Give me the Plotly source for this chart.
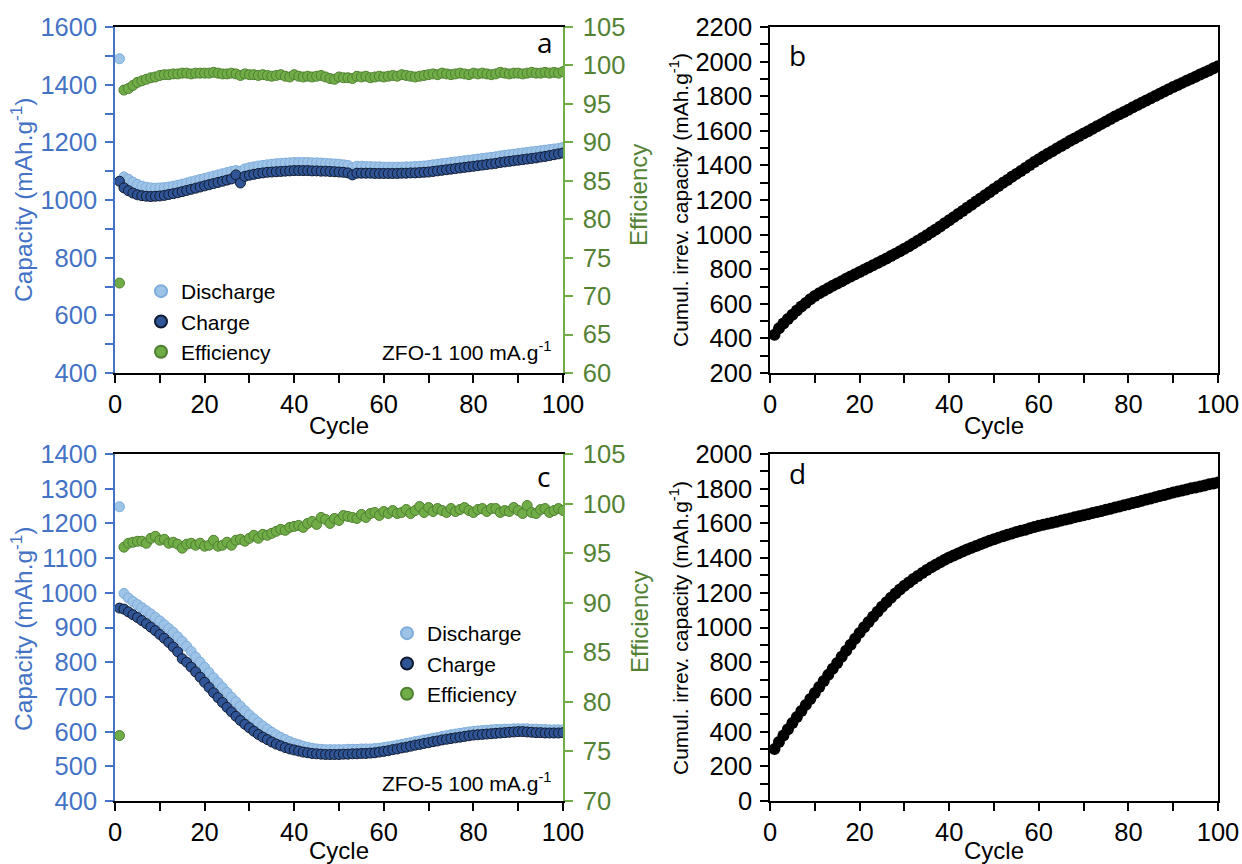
import plotly.graph_objects as go

cycles = list(range(1, 101))

# ---- Panel a: ZFO-1 ----
a_discharge = [1490, 1080, 1072, 1062, 1054, 1048, 1044, 1042, 1041, 1042,
               1043, 1045, 1048, 1051, 1055, 1059, 1063, 1067, 1071, 1075,
               1079, 1083, 1087, 1091, 1095, 1099, 1102, 1100, 1108, 1112,
               1115, 1118, 1120, 1122, 1124, 1126, 1127, 1128, 1129, 1130,
               1130, 1130, 1130, 1129, 1129, 1128, 1127, 1126, 1125, 1124,
               1122, 1120, 1112, 1117, 1117, 1116, 1116, 1115, 1115, 1114,
               1114, 1114, 1114, 1114, 1115, 1115, 1116, 1117, 1118, 1120,
               1122, 1124, 1126, 1128, 1130, 1132, 1134, 1136, 1138, 1140,
               1142, 1144, 1146, 1148, 1150, 1153, 1155, 1157, 1159, 1161,
               1163, 1165, 1167, 1169, 1171, 1173, 1175, 1177, 1179, 1182]
a_charge = [1065, 1042, 1032, 1024, 1018, 1015, 1013, 1012, 1013, 1014,
            1016, 1019, 1022, 1025, 1029, 1033, 1037, 1041, 1045, 1049,
            1053, 1057, 1061, 1065, 1069, 1073, 1087, 1059, 1082, 1086,
            1089, 1092, 1094, 1096, 1097, 1098, 1099, 1100, 1101, 1102,
            1102, 1102, 1102, 1101, 1101, 1100, 1100, 1099, 1098, 1097,
            1096, 1094, 1087, 1093, 1093, 1093, 1093, 1092, 1092, 1092,
            1092, 1092, 1092, 1093, 1093, 1094, 1094, 1095, 1096, 1097,
            1099, 1101, 1103, 1105, 1107, 1109, 1111, 1113, 1115, 1117,
            1119, 1121, 1123, 1125, 1127, 1130, 1132, 1134, 1136, 1138,
            1140, 1142, 1144, 1146, 1149, 1151, 1154, 1157, 1160, 1163]
a_eff = [71.7, 96.8, 97.0, 97.4, 97.8, 98.0, 98.2, 98.4, 98.5, 98.7,
         98.8, 98.8, 98.9, 98.9, 99.0, 99.0, 98.9, 99.0, 99.0, 99.0,
         99.0, 99.1, 99.0, 98.9, 98.9, 99.0, 98.9, 98.7, 98.9, 98.8,
         98.8, 98.7, 98.8, 98.7, 98.6, 98.7, 98.8, 98.6, 98.5, 98.8,
         98.6, 98.5, 98.6, 98.5, 98.6, 98.7, 98.5, 98.3, 98.2, 98.5,
         98.4, 98.4, 98.3, 98.6, 98.5, 98.6, 98.4, 98.5, 98.6, 98.5,
         98.6, 98.7, 98.6, 98.8, 98.7, 98.6, 98.5, 98.6, 98.7, 98.8,
         98.9, 98.8, 99.0, 98.9, 98.8, 98.9, 99.0, 98.9, 98.8, 99.0,
         98.9, 99.0, 98.9, 98.8, 98.9, 99.1, 99.0, 98.9, 99.0, 99.0,
         98.9, 99.0, 99.1, 99.0, 99.0, 99.1, 99.0, 99.1, 99.0, 99.2]

# ---- Panel b: ZFO-1 cumulative irreversible capacity ----
b_cumul = [421, 458, 486, 512, 537, 561, 584, 605, 626, 645,
           661, 676, 690, 704, 718, 731, 745, 758, 771, 784,
           797, 810, 823, 836, 849, 862, 876, 890, 904, 918,
           933, 948, 964, 980, 996, 1013, 1030, 1047, 1065, 1083,
           1101, 1119, 1137, 1155, 1173, 1191, 1209, 1227, 1245, 1263,
           1281, 1299, 1316, 1334, 1351, 1368, 1385, 1402, 1419, 1435,
           1451, 1467, 1482, 1497, 1512, 1527, 1542, 1556, 1570, 1584,
           1598, 1612, 1626, 1640, 1654, 1668, 1682, 1696, 1709, 1722,
           1736, 1749, 1762, 1775, 1788, 1801, 1814, 1827, 1840, 1853,
           1865, 1877, 1889, 1901, 1913, 1925, 1937, 1949, 1961, 1973]

# ---- Panel c: ZFO-5 ----
c_discharge = [1248, 998, 985, 975, 966, 957, 948, 939, 929, 919,
               908, 897, 886, 873, 860, 846, 831, 815, 800, 785,
               770, 755, 741, 727, 713, 699, 686, 673, 660, 648,
               637, 626, 616, 607, 598, 590, 583, 577, 571, 566,
               562, 558, 555, 552, 550, 549, 548, 548, 548, 548,
               548, 549, 549, 549, 550, 550, 550, 551, 552, 554,
               556, 558, 561, 563, 566, 568, 571, 573, 576, 578,
               581, 583, 586, 588, 591, 593, 595, 597, 599, 601,
               602, 603, 604, 605, 606, 606, 607, 607, 608, 608,
               608, 608, 607, 607, 606, 606, 605, 605, 605, 605]
c_charge = [956, 953, 945, 937, 929, 920, 911, 901, 891, 880,
            869, 857, 844, 830, 810, 800, 786, 772, 757, 742,
            727, 712, 698, 684, 670, 657, 644, 632, 621, 611,
            601, 592, 584, 577, 570, 564, 559, 554, 550, 547,
            544, 541, 539, 537, 536, 535, 534, 534, 534, 534,
            535, 535, 536, 536, 537, 537, 538, 539, 541, 543,
            545, 548, 550, 553, 555, 558, 561, 563, 566, 568,
            571, 573, 576, 578, 580, 582, 584, 586, 588, 590,
            591, 592, 593, 594, 595, 596, 597, 598, 599, 600,
            600, 599, 598, 597, 597, 596, 596, 596, 596, 597]
c_eff = [76.6, 95.6, 96.0, 96.1, 96.2, 96.2, 96.0, 96.5, 96.7, 96.3,
         96.4, 96.0, 96.1, 95.9, 95.5, 95.9, 96.0, 95.8, 96.0, 95.7,
         95.8, 96.3, 95.7, 95.8, 96.1, 95.8, 96.3, 96.4, 96.2, 96.5,
         96.8, 96.5, 96.9, 96.8, 97.0, 97.2, 97.4, 97.3, 97.6, 97.7,
         97.8, 97.6, 98.0, 98.2, 97.9, 98.6, 98.4, 98.0, 98.5, 98.3,
         98.8, 98.7, 98.6, 98.5, 98.9, 98.6, 99.0, 99.1, 98.8, 99.2,
         99.0, 99.3, 99.0, 99.1, 99.4, 99.0, 99.3, 99.7, 99.1, 99.6,
         99.2, 99.5, 99.3, 99.1, 99.5, 99.2, 99.4, 99.6, 99.3, 99.1,
         99.4, 99.5, 99.2, 99.5, 99.5, 99.1, 99.3, 99.2, 99.6, 99.3,
         99.0, 99.8, 99.1, 99.0, 99.4, 99.5, 99.1, 99.3, 99.5, 99.3]

# ---- Panel d: ZFO-5 cumulative irreversible capacity ----
d_cumul = [299, 340, 378, 414, 449, 484, 519, 554, 588, 622,
           657, 692, 727, 762, 796, 831, 866, 901, 935, 969,
           1001, 1032, 1062, 1091, 1119, 1146, 1172, 1196, 1219, 1240,
           1260, 1279, 1297, 1314, 1331, 1347, 1362, 1376, 1390, 1403,
           1415, 1427, 1438, 1449, 1460, 1470, 1480, 1490, 1500, 1509,
           1518, 1526, 1534, 1542, 1550, 1557, 1564, 1572, 1579, 1586,
           1592, 1598, 1604, 1610, 1616, 1622, 1628, 1635, 1641, 1647,
           1653, 1660, 1666, 1672, 1679, 1685, 1692, 1698, 1705, 1711,
           1718, 1724, 1731, 1738, 1744, 1751, 1758, 1764, 1771, 1778,
           1784, 1790, 1796, 1802, 1807, 1813, 1819, 1825, 1830, 1836]

# ---------------- styling ----------------
W, H = 1242, 864
FONT = "Liberation Sans, Arial, sans-serif"
BLUE = "#4472C4"
GREEN_TXT = "#548235"
GREEN_LINE = "#70AD47"
DIS_FILL, DIS_LINE = "#9DC3E6", "#7EADDC"
CHG_FILL, CHG_LINE = "#2F5597", "#101A30"
EFF_FILL, EFF_LINE = "#70AD47", "#4F7F30"
TICK_SIZE = 25.5


def px(x):
    return x / W


def py(y):
    return 1 - y / H


XA = [px(115), px(563)]
XB = [px(770), px(1218)]
YTOP = [py(373), py(27)]
YBOT = [py(801), py(454)]

fig = go.Figure()

MS = 10


def cap_traces(xa, ya, ya2, dis, chg, eff, legend, show):
    fig.add_trace(go.Scatter(x=cycles, y=dis, mode="markers", name="Discharge",
                             xaxis=xa, yaxis=ya, legend=legend, showlegend=show,
                             marker=dict(size=MS, color=DIS_FILL, line=dict(color=DIS_LINE, width=1))))
    fig.add_trace(go.Scatter(x=cycles, y=chg, mode="markers", name="Charge",
                             xaxis=xa, yaxis=ya, legend=legend, showlegend=show,
                             marker=dict(size=MS, color=CHG_FILL, line=dict(color=CHG_LINE, width=1))))
    fig.add_trace(go.Scatter(x=cycles, y=eff, mode="markers", name="Efficiency",
                             xaxis=xa, yaxis=ya2, legend=legend, showlegend=show,
                             marker=dict(size=MS, color=EFF_FILL, line=dict(color=EFF_LINE, width=1))))


cap_traces("x", "y", "y2", a_discharge, a_charge, a_eff, "legend", True)
cap_traces("x2", "y3", "y4", c_discharge, c_charge, c_eff, "legend2", True)

fig.add_trace(go.Scatter(x=cycles, y=b_cumul, mode="markers", showlegend=False,
                         xaxis="x3", yaxis="y5",
                         marker=dict(size=12, color="black", line=dict(width=0))))
fig.add_trace(go.Scatter(x=cycles, y=d_cumul, mode="markers", showlegend=False,
                         xaxis="x4", yaxis="y6",
                         marker=dict(size=12, color="black", line=dict(width=0))))

TF = dict(family=FONT, size=TICK_SIZE, color="black")


def xax(domain, anchor):
    return dict(domain=domain, anchor=anchor, range=[0, 100], dtick=20, tick0=0,
                ticks="outside", ticklen=8, tickwidth=1.5, tickcolor="black",
                minor=dict(dtick=10, ticks="outside", ticklen=8, tickwidth=1.5, tickcolor="black"),
                showline=True, linecolor="black", linewidth=1.5, mirror=True,
                showgrid=False, zeroline=False, tickfont=TF, automargin=False)


def yax(domain, anchor, rng, dtick, minor, color):
    d = dict(domain=domain, anchor=anchor, range=rng, dtick=dtick, tick0=rng[0],
             ticks="outside", ticklen=8, tickwidth=1.5, tickcolor=color,
             showline=True, linecolor=color, linewidth=1.5,
             showgrid=False, zeroline=False, automargin=False, ticklabelstandoff=3,
             tickfont=dict(family=FONT, size=TICK_SIZE, color=color))
    if minor:
        d["minor"] = dict(dtick=minor, ticks="outside", ticklen=8, tickwidth=1.5, tickcolor=color)
    return d


def y2ax(overlay, anchor, rng, color_line, color_txt):
    return dict(overlaying=overlay, anchor=anchor, side="right", range=rng, dtick=5, tick0=rng[0],
                ticks="outside", ticklen=8, tickwidth=1.5, tickcolor=color_line,
                showline=True, linecolor=color_line, linewidth=1.5,
                showgrid=False, zeroline=False, automargin=False, ticklabelstandoff=5,
                tickfont=dict(family=FONT, size=TICK_SIZE, color=color_txt))


yb = yax(YTOP, "x3", [200, 2200], 200, 100, "black")
yb["mirror"] = True
yd = yax(YBOT, "x4", [0, 2000], 200, 100, "black")
yd["mirror"] = True

fig.update_layout(
    width=W, height=H,
    margin=dict(l=0, r=0, t=0, b=0, autoexpand=False),
    paper_bgcolor="white", plot_bgcolor="white",
    font=dict(family=FONT, size=21, color="black"),
    xaxis=xax(XA, "y"),
    yaxis=yax(YTOP, "x", [400, 1600], 200, 100, BLUE),
    yaxis2=y2ax("y", "x", [60, 105], GREEN_LINE, GREEN_TXT),
    xaxis2=xax(XA, "y3"),
    yaxis3=yax(YBOT, "x2", [400, 1400], 100, None, BLUE),
    yaxis4=y2ax("y3", "x2", [70, 105], GREEN_LINE, GREEN_TXT),
    xaxis3=xax(XB, "y5"),
    yaxis5=yb,
    xaxis4=xax(XB, "y6"),
    yaxis6=yd,
    legend=dict(x=px(141), y=py(271), xanchor="left", yanchor="top",
                bgcolor="rgba(0,0,0,0)", font=dict(family=FONT, size=21, color="black"),
                tracegroupgap=0, itemsizing="constant"),
    legend2=dict(x=px(387), y=py(613), xanchor="left", yanchor="top",
                 bgcolor="rgba(0,0,0,0)", font=dict(family=FONT, size=21, color="black"),
                 tracegroupgap=0, itemsizing="constant"),
)

ann = []


def text(x, y, s, size=24, color="black", angle=0, xanchor="center", family=FONT):
    ann.append(dict(x=px(x), y=py(y), xref="paper", yref="paper", text=s, showarrow=False,
                    xanchor=xanchor, yanchor="middle", textangle=angle,
                    font=dict(family=family, size=size, color=color)))


# axis titles
text(21, 200, "Capacity (mAh.g<sup>-1</sup>)", size=24.5, color=BLUE, angle=-90)
text(21, 629, "Capacity (mAh.g<sup>-1</sup>)", size=24.5, color=BLUE, angle=-90)
text(639, 195, "Efficiency", size=24, color=GREEN_TXT, angle=-90)
text(639, 622, "Efficiency", size=24, color=GREEN_TXT, angle=-90)
text(679, 200, "Cumul. irrev. capacity (mAh.g<sup>-1</sup>)", size=21, angle=-90)
text(679, 628, "Cumul. irrev. capacity (mAh.g<sup>-1</sup>)", size=21, angle=-90)
text(339, 425, "Cycle")
text(339, 850, "Cycle")
text(994, 425, "Cycle")
text(994, 850, "Cycle")

# sample labels
text(553, 351, "ZFO-1 100 mA.g<sup>-1</sup>", size=21, xanchor="right")
text(553, 782, "ZFO-5 100 mA.g<sup>-1</sup>", size=21, xanchor="right")

# panel letters
LET = "Open Sans, Lato, sans-serif"
text(545, 42, "a", size=28, family=LET)
text(797, 55, "b", size=28, family=LET)
text(543, 476, "c", size=28, family=LET)
text(797, 473, "d", size=28, family=LET)

fig.update_layout(annotations=ann)

fig.write_html(
    "out.html",
    config={"displayModeBar": False},
    post_script="document.documentElement.style.margin='0';document.body.style.margin='0';"
                "document.body.style.padding='0';document.body.style.overflow='hidden';",
)
